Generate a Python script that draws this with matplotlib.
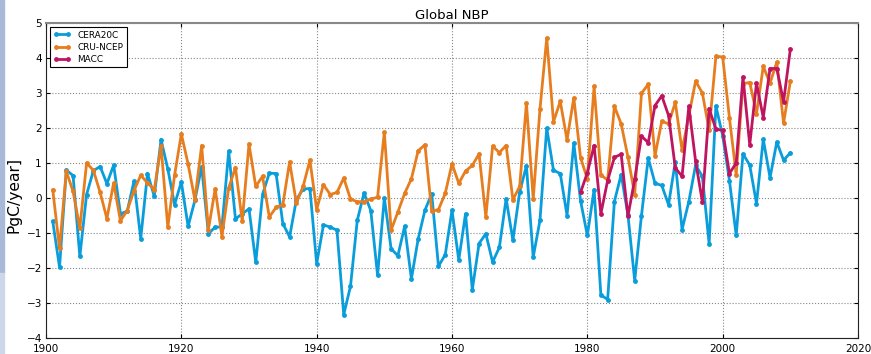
import numpy as np
import matplotlib
matplotlib.use("Agg")
import matplotlib.pyplot as plt
import matplotlib.patches as mpatches

# -----------------------------------------------------------------------
# Data (annual global NBP, PgC/year)
# -----------------------------------------------------------------------

years = np.arange(1901, 2011)
macc_years = np.arange(1979, 2011)

cera20c = [
    -0.67, -1.98, 0.80, 0.64, -1.67, 0.10, 0.78, 0.90, 0.41, 0.94,
    -0.45, -0.38, 0.48, -1.16, 0.70, 0.05, 1.67, 0.83, -0.19, 0.46,
    -0.81, -0.07, 0.90, -1.02, -0.83, -0.83, 1.33, -0.60, -0.45, -0.31,
    -1.84, 0.10, 0.71, 0.70, -0.73, -1.11, -0.05, 0.26, 0.27, -1.88,
    -0.77, -0.83, -0.92, -3.33, -2.52, -0.64, 0.14, -0.36, -2.21, 0.00,
    -1.45, -1.65, -0.81, -2.31, -1.17, -0.35, 0.12, -1.95, -1.62, -0.35,
    -1.77, -0.45, -2.62, -1.30, -1.02, -1.83, -1.41, -0.02, -1.21, 0.17,
    0.92, -1.69, -0.64, 2.00, 0.79, 0.70, -0.50, 1.57, -0.08, -1.07,
    0.24, -2.77, -2.90, -0.10, 0.67, -0.48, -2.36, -0.50, 1.14, 0.42,
    0.36, -0.19, 1.03, -0.90, -0.10, 0.94, 0.62, -1.31, 2.63, 1.78,
    0.50, -1.07, 1.26, 0.94, -0.16, 1.68, 0.58, 1.60, 1.08, 1.29,
]

cru_ncep = [
    0.23, -1.44, 0.76, 0.19, -0.86, 1.00, 0.79, 0.16, -0.59, 0.43,
    -0.65, -0.36, 0.21, 0.65, 0.43, 0.24, 1.48, -0.83, 0.65, 1.83,
    0.97, -0.05, 1.50, -0.90, 0.26, -1.10, 0.29, 0.87, -0.66, 1.54,
    0.33, 0.62, -0.54, -0.27, -0.19, 1.03, -0.14, 0.33, 1.08, -0.33,
    0.38, 0.10, 0.16, 0.57, -0.03, -0.11, -0.10, -0.03, 0.02, 1.88,
    -0.92, -0.40, 0.13, 0.55, 1.35, 1.52, -0.38, -0.33, 0.13, 0.98,
    0.42, 0.77, 0.93, 1.26, -0.54, 1.48, 1.30, 1.50, -0.05, 0.33,
    2.71, -0.03, 2.54, 4.57, 2.18, 2.76, 1.66, 2.86, 1.15, 0.55,
    3.19, 0.66, 0.51, 2.62, 2.12, 1.17, 0.10, 2.99, 3.25, 1.21,
    2.19, 2.12, 2.73, 1.36, 2.35, 3.34, 3.00, 1.94, 4.05, 4.03,
    2.29, 0.67, 3.27, 3.30, 2.41, 3.76, 3.28, 3.88, 2.14, 3.33,
]

macc = [
    0.16, 0.72, 1.50, -0.45, 0.50, 1.16, 1.25, -0.52, 0.53, 1.77,
    1.58, 2.64, 2.92, 2.36, 0.86, 0.62, 2.62, 1.05, -0.11, 2.55,
    1.97, 1.93, 0.70, 1.00, 3.46, 1.52, 3.28, 2.30, 3.70, 3.70,
    2.75, 4.25,
]

x_ticks = np.arange(1900, 2021, 20)
y_ticks = np.arange(-4, 6, 1)

# -----------------------------------------------------------------------
# Plot
# -----------------------------------------------------------------------

fig = plt.figure(figsize=(8.71, 3.54), dpi=100)
ax = fig.add_axes([46 / 871, 1 - 338 / 354, 812 / 871, 315 / 354])

# screenshot edge strip on the left
fig.patches.append(mpatches.Rectangle((0, 1 - 273 / 354), 4 / 871, 273 / 354,
                                      transform=fig.transFigure, color="#a9b9d9", zorder=-1))
fig.patches.append(mpatches.Rectangle((0, 0), 4 / 871, 1 - 273 / 354,
                                      transform=fig.transFigure, color="#cdd7ea", zorder=-1))

series = [
    (years, cera20c, "CERA20C", "#0a9ddb"),
    (years, cru_ncep, "CRU-NCEP", "#e67d1f"),
    (macc_years, macc, "MACC", "#bf1560"),
]
for xs, ys, label, color in series:
    ax.plot(xs, ys, color=color, linewidth=2.0, marker="o", markersize=3.5,
            markeredgewidth=0, label=label)

ax.set_xlim(1900, 2020)
ax.set_ylim(-4, 5)
ax.set_xticks(x_ticks)
ax.set_yticks(y_ticks)
ax.tick_params(direction="in", top=True, right=True, labelsize=7.5, length=3, pad=3)
ax.tick_params(axis="x", pad=4)
ax.grid(True, color="#888888", linestyle=":", linewidth=0.8)
ax.set_axisbelow(True)
for side in ["left", "bottom", "right"]:
    ax.spines[side].set_color("#222222")
ax.spines["top"].set_color("#888888")
ax.spines["top"].set_linewidth(1.5)

ax.set_title("Global NBP", fontsize=9.5, pad=3)
ax.set_ylabel("PgC/year]", fontsize=11.2)
ax.yaxis.set_label_coords(-0.030, 0.454)

leg = ax.legend(loc="upper left", numpoints=2, fontsize=6.4, fancybox=False,
                edgecolor="black", framealpha=1, borderaxespad=0.45,
                handlelength=1.9, labelspacing=0.35, borderpad=0.4)
leg.get_frame().set_linewidth(0.8)

fig.savefig("out.png", dpi=100)
